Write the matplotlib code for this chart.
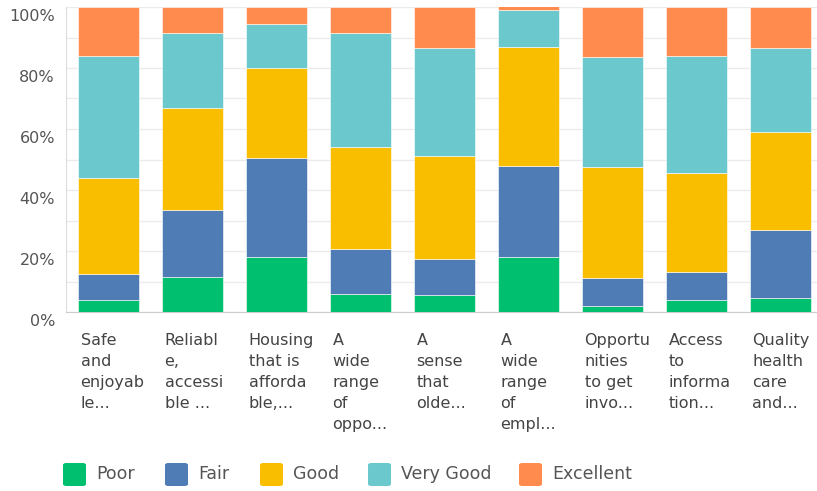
import matplotlib
matplotlib.use("Agg")
import matplotlib.pyplot as plt
import matplotlib.transforms as mtransforms
from matplotlib.patches import FancyBboxPatch
import numpy as np

categories = [
    "Safe\nand\nenjoyab\nle...",
    "Reliabl\ne,\naccessi\nble ...",
    "Housing\nthat is\nafforda\nble,...",
    "A\nwide\nrange\nof\noppo...",
    "A\nsense\nthat\nolde...",
    "A\nwide\nrange\nof\nempl...",
    "Opportu\nnities\nto get\ninvo...",
    "Access\nto\ninforma\ntion...",
    "Quality\nhealth\ncare\nand...",
]
series_names = ["Poor", "Fair", "Good", "Very Good", "Excellent"]
poor = [4.0, 11.5, 18.0, 6.0, 5.5, 18.0, 2.0, 4.0, 4.5]
fair = [8.5, 22.0, 32.5, 14.5, 12.0, 30.0, 9.0, 9.0, 22.5]
good = [31.5, 33.5, 29.5, 33.5, 33.5, 39.0, 36.5, 32.5, 32.0]
very_good = [40.0, 24.5, 14.5, 37.5, 35.5, 12.0, 36.0, 38.5, 27.5]
excellent = [16.0, 8.5, 5.5, 8.5, 13.5, 1.3, 16.5, 16.0, 13.5]
colors = ["#00BF6F", "#507CB6", "#F9BE00", "#6BC8CD", "#FF8B4F"]

fig = plt.figure(figsize=(8.17, 4.91), dpi=100)
ax = fig.add_axes([66 / 817, 1 - 312 / 491, 751 / 817, 305 / 491])

x = np.arange(len(categories))
width = 0.726
bottom = np.zeros(len(categories))
for name, vals, col in zip(series_names, [poor, fair, good, very_good, excellent], colors):
    ax.bar(x, vals, width, bottom=bottom, color=col, edgecolor="white", linewidth=0.4,
           label=name, zorder=3)
    bottom += np.array(vals)

ax.set_xlim(-0.506, 8.435)
ax.set_ylim(0, 100)
ax.set_yticks(np.arange(0, 101, 20))
ax.set_yticklabels([f"{v}%" for v in range(0, 101, 20)], color="#555555", fontsize=11.5)
ax.set_yticks(np.arange(0, 101, 10), minor=True)
ax.grid(axis="y", which="both", color="#ebebeb", linewidth=1, zorder=0)
ax.tick_params(axis="y", which="both", length=0, pad=8)
# labels sit a little below their gridlines, as in the original
shift = mtransforms.ScaledTranslation(0, -8 / 100, fig.dpi_scale_trans)
for lbl in ax.get_yticklabels():
    lbl.set_transform(lbl.get_transform() + shift)
ax.set_xticks([])
for s in ["top", "right"]:
    ax.spines[s].set_visible(False)
ax.spines["left"].set_color("#dddddd")
ax.spines["bottom"].set_color("#cccccc")

for i, lab in enumerate(categories):
    ax.text(i - width / 2 + 0.03, -6.8, lab, ha="left", va="top", fontsize=11.5,
            color="#444444", linespacing=1.5, clip_on=False)

# legend with rounded squares
lx = [63, 165, 260, 368, 519]
ly = 474
for name, col, px in zip(series_names, colors, lx):
    box = FancyBboxPatch((px / 817, (491 - ly - 12) / 491), 23 / 817, 23 / 491,
                         boxstyle="round,pad=0,rounding_size=0.004",
                         transform=fig.transFigure, facecolor=col, edgecolor="none")
    fig.patches.append(box)
    fig.text((px + 33) / 817, (491 - ly) / 491, name, ha="left", va="center",
             fontsize=12.5, color="#555555")

fig.savefig("out.png", dpi=100)
